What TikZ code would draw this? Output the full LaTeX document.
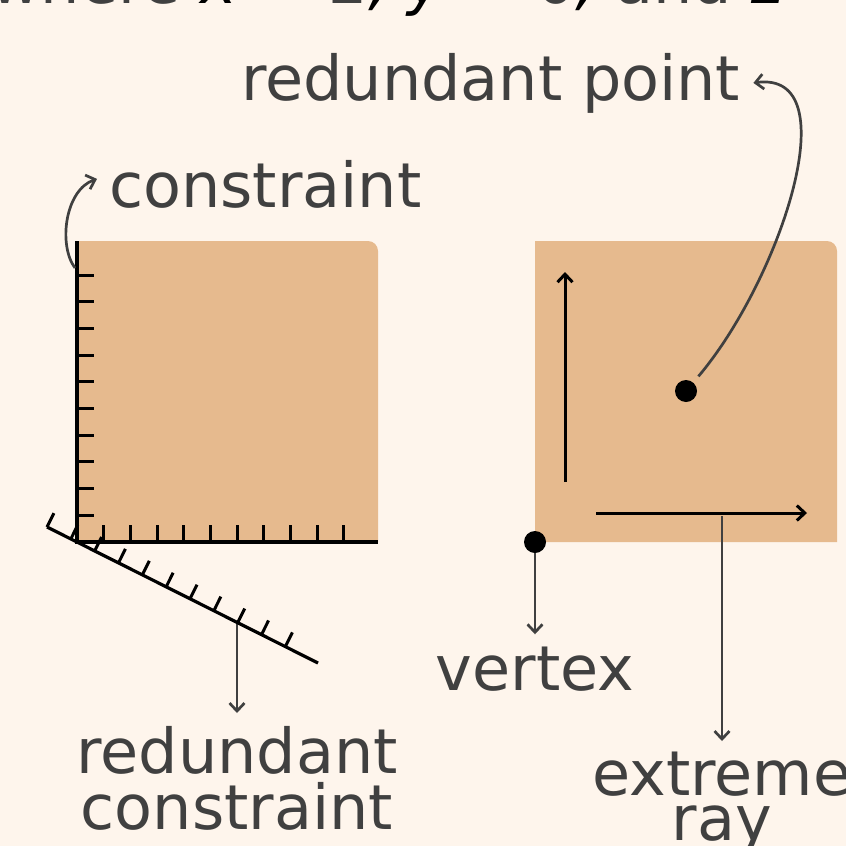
\documentclass[tikz,border=0pt]{standalone}
\usepackage{fontspec}
\setmainfont{DejaVu Sans}
\usetikzlibrary{arrows.meta}

\definecolor{paper}{RGB}{254,245,236}
\definecolor{region}{RGB}{230,186,142}
\definecolor{ink}{RGB}{64,64,64}

\tikzset{
  bigtext/.style={font=\fontsize{62}{56.6}\selectfont, text=ink, inner sep=0pt},
  axis/.style={line width=3.2pt, black},
  tick/.style={line width=3pt, black},
  pointer/.style={line width=2.7pt, ink, -{Straight Barb[length=8pt,width=15pt]}},
  ray/.style={line width=3pt, black, -{Straight Barb[length=8pt,width=15pt]}},
  dot/.style={circle, fill=black, minimum size=22pt, inner sep=0pt},
}
\newcommand{\varx}[1]{{\color{black}\textit{#1}}}

\begin{document}
\begin{tikzpicture}[x=1pt,y=-1pt]
    % Fondo
    \fill[paper] (0,0) rectangle (846,846);
    \useasboundingbox (0,0) rectangle (846,846);

    % Texto cortado arriba
    \node[bigtext, anchor=base west] (caption) at (-10,3) {where \varx{x} = 2\varx{,} \varx{y} = 0\varx{,} and \varx{z} = 1};

    % Regiones
    \fill[region] (77,542) -- (77,241) -- (368,241) arc (270:360:10) -- (378,542) -- cycle;
    \fill[region] (535,542) -- (535,241) -- (827,241) arc (270:360:10) -- (837,542) -- cycle;

    % Restricciones (izquierda)
    \draw[axis] (77,241) -- (77,542) -- (378,542);
    \foreach \k in {1,...,10}
        \draw[tick] (77,542-26.67*\k) -- ++(17,0);
    \foreach \k in {1,...,10}
        \draw[tick] (77+26.67*\k,542) -- ++(0,-17);

    % Restriccion redundante
    \coordinate (rcstart) at (237,623);
    \node[bigtext, anchor=north, align=center] (rclabel) at (237,726) {redundant\\constraint};
    \draw[pointer, shorten >=13pt] (rcstart) -- (rclabel.north);
    \draw[axis] (47,527) -- (318,663);
    \foreach \k in {0,...,10}
        \draw[tick] (47+23.85*\k,527+11.93*\k) -- ++(6.9,-13.9);

    % Etiqueta de la restriccion
    \coordinate (csstart) at (75,268);
    \node[bigtext, anchor=base west] (cslabel) at (109,207) {constraint};
    \draw[pointer] (csstart) .. controls (58,245) and (65,190) .. ([xshift=-12pt,yshift=5pt]cslabel.west);

    % Rayos (derecha)
    \draw[ray] (565,482) -- (565,272);
    \draw[ray] (596,513) -- (807,513);

    % Puntos
    \node[dot] (inner) at (686,391) {};
    \node[dot] (vx) at (535,542) {};

    % Punto redundante
    \node[bigtext, anchor=base west] (rplabel) at (241,100) {redundant point};
    \draw[pointer, shorten <=8pt] (inner) .. controls (780,280) and (850,70) .. ([xshift=13pt]rplabel.east);

    % Vertice
    \node[bigtext, anchor=base] (vxlabel) at (535,690) {vertex};
    \draw[pointer, shorten >=12pt] (vx) -- (vxlabel.north);

    % Rayo extremo
    \coordinate (erstart) at (722,516);
    \node[bigtext, anchor=north, align=center, font=\fontsize{62}{45}\selectfont] (erlabel) at (722,752) {extreme\\ray};
    \draw[pointer, shorten >=11pt] (erstart) -- (erlabel.north);
\end{tikzpicture}
\end{document}
